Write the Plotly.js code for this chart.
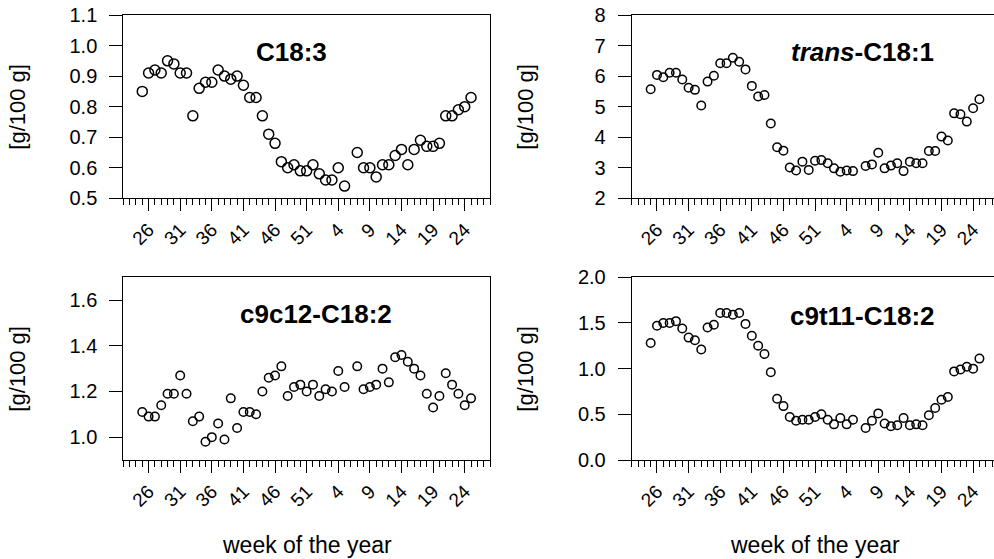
<!DOCTYPE html>
<html>
<head>
<meta charset="utf-8">
<script src="https://cdn.plot.ly/plotly-3.0.1.min.js"></script>
<style>
  html, body { margin: 0; padding: 0; overflow: hidden; background: #fff; }
  #chart { width: 994px; height: 559px; }
</style>
</head>
<body>
<div id="chart"></div>
<script>
// Sampling weeks (week of the year), running from week 25 to week 25 of the following year (week 6 missing)
const weeks = [25,26,27,28,29,30,31,32,33,34,35,36,37,38,39,40,41,42,43,44,45,46,47,48,49,50,51,52,
               1,2,3,4,5,7,8,9,10,11,12,13,14,15,16,17,18,19,20,21,22,23,24,25];

const c18_3 = [0.85,0.91,0.92,0.91,0.95,0.94,0.91,0.91,0.77,0.86,0.88,0.88,0.92,0.90,0.89,0.90,0.87,0.83,0.83,0.77,0.71,0.68,0.62,0.60,0.61,0.59,0.59,0.61,
               0.58,0.56,0.56,0.60,0.54,0.65,0.60,0.60,0.57,0.61,0.61,0.64,0.66,0.61,0.66,0.69,0.67,0.67,0.68,0.77,0.77,0.79,0.80,0.83];

const transC18_1 = [5.57,6.04,5.96,6.11,6.11,5.89,5.62,5.55,5.04,5.82,6.01,6.42,6.42,6.60,6.47,6.22,5.68,5.33,5.38,4.45,3.67,3.56,3.01,2.91,3.20,2.93,3.23,3.25,
                    3.15,2.98,2.87,2.91,2.89,3.06,3.11,3.49,2.98,3.07,3.15,2.89,3.20,3.15,3.15,3.55,3.55,4.02,3.89,4.78,4.75,4.51,4.95,5.24];

const c9c12 = [1.11,1.09,1.09,1.14,1.19,1.19,1.27,1.19,1.07,1.09,0.98,1.00,1.06,0.99,1.17,1.04,1.11,1.11,1.10,1.20,1.26,1.27,1.31,1.18,1.22,1.23,1.20,1.23,
               1.18,1.21,1.20,1.29,1.22,1.31,1.21,1.22,1.23,1.30,1.24,1.35,1.36,1.33,1.30,1.27,1.19,1.13,1.18,1.28,1.23,1.19,1.14,1.17];

const c9t11 = [1.28,1.47,1.50,1.50,1.52,1.44,1.34,1.31,1.21,1.45,1.48,1.61,1.61,1.59,1.61,1.49,1.36,1.25,1.16,0.96,0.67,0.59,0.47,0.43,0.44,0.44,0.47,0.50,
               0.44,0.39,0.46,0.39,0.44,0.35,0.43,0.51,0.40,0.37,0.38,0.46,0.38,0.39,0.38,0.49,0.57,0.66,0.69,0.97,0.99,1.02,1.00,1.11];

const tickLabels = ['26','31','36','41','46','51','4','9','14','19','24'];
const panelTitles = ['<b>C18:3</b>', '<b><i>trans</i>-C18:1</b>', '<b>c9c12-C18:2</b>', '<b>c9t11-C18:2</b>'];
const yTitle = '[g/100 g]';
const xTitle = 'week of the year';

// continuous position: weeks of the second year continue after week 52
function toPos(seq) {
  const out = [];
  let offset = 0, prev = -1;
  for (const w of seq) { const v = +w; if (v < prev) offset = 52; out.push(v + offset); prev = v; }
  return out;
}
const xPos = toPos(weeks);
const tickPos = toPos(tickLabels);

const W = 994, H = 559;
const font = 'Liberation Sans, Arial, Helvetica, sans-serif';
const pxPerWeek = (490 - 123.3) / 58;

const xDomL = [123.3 / W, 490 / W];
const xDomR = [631.7 / W, 1];
const xRangeL = [22, 80];
const xRangeR = [22, 22 + (W - 631.7) / pxPerWeek];
const yDomTop = [1 - 198.3 / H, 1 - 15 / H];
const yDomBot = [1 - 460 / H, 1 - 277.3 / H];

function xaxis(dom, anchor, range) {
  return {
    domain: dom, anchor: anchor, range: range,
    tickmode: 'array', tickvals: tickPos, ticktext: tickLabels, tickangle: -45,
    ticks: 'outside', ticklen: 12, tickwidth: 1, tickcolor: '#000',
    minor: { tickmode: 'linear', tick0: 22, dtick: 1, ticks: 'outside', ticklen: 6, tickwidth: 1, tickcolor: '#000', showgrid: false },
    showline: true, linecolor: '#000', linewidth: 1, mirror: true,
    showgrid: false, zeroline: false,
    tickfont: { family: font, size: 19, color: '#000' }
  };
}
function yaxis(dom, anchor, range, dtick, fmt, mirror) {
  return {
    domain: dom, anchor: anchor, range: range, tickmode: 'linear', tick0: 0, dtick: dtick, tickformat: fmt,
    ticks: 'outside', ticklen: 13, tickwidth: 1, tickcolor: '#000', ticklabelstandoff: 8,
    showline: true, linecolor: '#000', linewidth: 1, mirror: mirror,
    showgrid: false, zeroline: false,
    tickfont: { family: font, size: 20, color: '#000' }
  };
}

function trace(y, xa, ya, size) {
  return {
    type: 'scatter', mode: 'markers', x: xPos, y: y, xaxis: xa, yaxis: ya,
    marker: { symbol: 'circle-open', size: size, color: '#000', line: { width: 1.5, color: '#000' } },
    hoverinfo: 'x+y', showlegend: false, cliponaxis: false
  };
}

const data = [
  trace(c18_3, 'x', 'y', 10),
  trace(transC18_1, 'x2', 'y2', 8.5),
  trace(c9c12, 'x3', 'y3', 8.5),
  trace(c9t11, 'x4', 'y4', 8.5)
];

const ann = [];
function addText(text, px, py, size, angle) {
  ann.push({ text: text, xref: 'paper', yref: 'paper', x: px / W, y: 1 - py / H,
             xanchor: 'center', yanchor: 'middle', showarrow: false, textangle: angle || 0,
             font: { family: font, size: size, color: '#000' } });
}
addText(panelTitles[0], 291, 52, 26);
addText(panelTitles[1], 862, 52, 26);
addText(panelTitles[2], 316, 314, 26);
addText(panelTitles[3], 862.5, 316, 26);
addText(yTitle, 18, 106.7, 22, -90);
addText(yTitle, 526, 106.7, 22, -90);
addText(yTitle, 18, 368.7, 22, -90);
addText(yTitle, 526, 368.7, 22, -90);
addText(xTitle, 307, 545, 23);
addText(xTitle, 815, 545, 23);

const layout = {
  width: W, height: H,
  margin: { l: 0, r: 0, t: 0, b: 0 },
  paper_bgcolor: '#fff', plot_bgcolor: '#fff',
  font: { family: font, color: '#000' },
  xaxis: xaxis(xDomL, 'y', xRangeL),
  yaxis: yaxis(yDomTop, 'x', [0.5, 1.1], 0.1, '.1f', true),
  xaxis2: xaxis(xDomR, 'y2', xRangeR),
  yaxis2: yaxis(yDomTop, 'x2', [2, 8], 1, 'd', false),
  xaxis3: xaxis(xDomL, 'y3', xRangeL),
  yaxis3: yaxis(yDomBot, 'x3', [0.9, 1.7], 0.2, '.1f', true),
  xaxis4: xaxis(xDomR, 'y4', xRangeR),
  yaxis4: yaxis(yDomBot, 'x4', [0, 2], 0.5, '.1f', false),
  annotations: ann
};

Plotly.newPlot('chart', data, layout, { displayModeBar: false, staticPlot: true });
</script>
</body>
</html>
